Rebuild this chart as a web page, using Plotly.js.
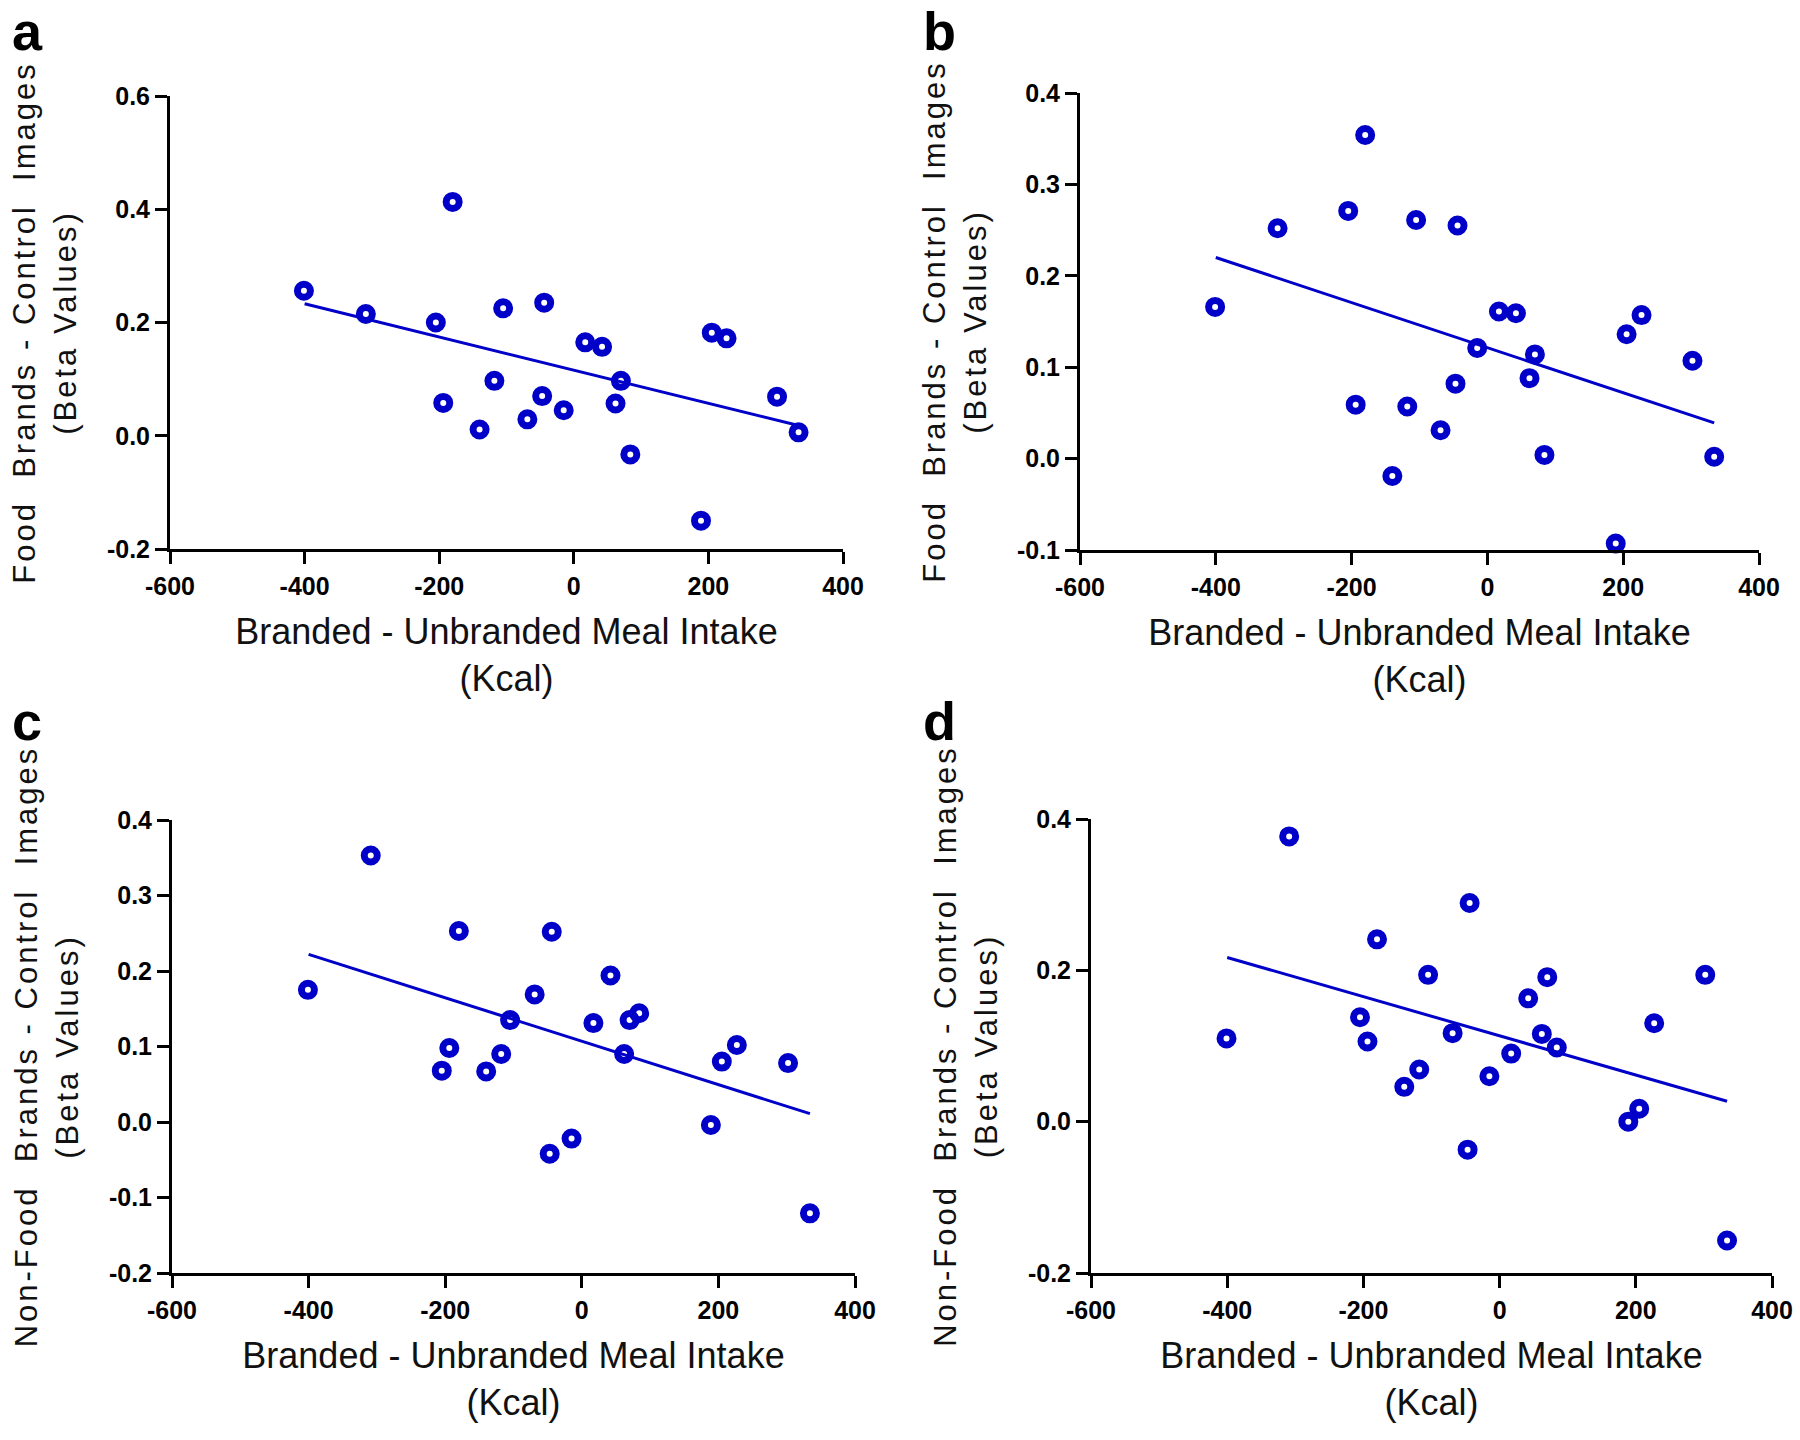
<!DOCTYPE html>
<html><head><meta charset="utf-8">
<script src="https://cdn.plot.ly/plotly-3.0.1.min.js"></script>
<style>
html,body{margin:0;padding:0;background:#fff;}
#chart{width:1800px;height:1440px;}
g[class^="g-y"][class$="title"] text{letter-spacing:3px;}
</style></head><body><div id="chart"></div>
<script>
// Branded - Unbranded meal intake (Kcal), one value per participant (shared by all panels)
const intakeKcal = [-401, -309, -205, -194, -180, -140, -118, -105, -69, -44, -47, -15, 17, 42, 62, 70, 84, 189, 205, 227, 302, 334];
// Beta values per panel, in the same participant order
const betaA = [0.256, 0.215, 0.200, 0.058, 0.413, 0.011, 0.097, 0.225, 0.029, 0.235, 0.070, 0.045, 0.165, 0.157, 0.057, 0.097, -0.033, -0.150, 0.182, 0.172, 0.069, 0.006];
const betaB = [0.166, 0.252, 0.271, 0.059, 0.354, -0.019, 0.057, 0.261, 0.031, 0.255, 0.082, 0.121, 0.161, 0.159, 0.088, 0.114, 0.004, -0.093, 0.136, 0.157, 0.107, 0.002];
const betaC = [0.175, 0.353, 0.068, 0.098, 0.253, 0.067, 0.090, 0.135, 0.169, 0.252, -0.042, -0.022, 0.131, 0.194, 0.090, 0.135, 0.144, -0.004, 0.080, 0.102, 0.078, -0.121];
const betaD = [0.110, 0.377, 0.138, 0.106, 0.241, 0.046, 0.069, 0.194, 0.117, 0.289, -0.037, 0.060, 0.090, 0.163, 0.116, 0.191, 0.098, 0.000, 0.017, 0.130, 0.194, -0.157];
// Regression line end points
const fitX = [-400, 334];
const fitA = [0.233, 0.018];
const fitB = [0.220, 0.039];
const fitC = [0.222, 0.011];
const fitD = [0.217, 0.027];
// Tick labels
const xTickVals = [-600, -400, -200, 0, 200, 400];
const xTickText = ['-600', '-400', '-200', '0', '200', '400'];
const yTickValsA = [-0.2, 0, 0.2, 0.4, 0.6];
const yTickTextA = ['-0.2', '0.0', '0.2', '0.4', '0.6'];
const yTickValsB = [-0.1, 0, 0.1, 0.2, 0.3, 0.4];
const yTickTextB = ['-0.1', '0.0', '0.1', '0.2', '0.3', '0.4'];
const yTickValsC = [-0.2, -0.1, 0, 0.1, 0.2, 0.3, 0.4];
const yTickTextC = ['-0.2', '-0.1', '0.0', '0.1', '0.2', '0.3', '0.4'];
const yTickValsD = [-0.2, 0, 0.2, 0.4];
const yTickTextD = ['-0.2', '0.0', '0.2', '0.4'];
const panelLetters = ['a', 'b', 'c', 'd'];
const xTitleText = 'Branded - Unbranded Meal Intake<br>(Kcal)';
const yTitleFood = 'Food\u00a0 Brands - Control\u00a0 Images<br>(Beta Values)';
const yTitleNonFood = 'Non-Food\u00a0 Brands - Control\u00a0 Images<br>(Beta Values)';

const BLUE = '#0000c8';
const FONT = 'Liberation Sans, Arial, sans-serif';

const panels = [
  {y: betaA, fit: fitA, tv: yTickValsA, tt: yTickTextA, range: [-0.2, 0.6], ytitle: yTitleFood,
   xd: [170/1800, 843/1800], yd: [1-549/1440, 1-96/1440]},
  {y: betaB, fit: fitB, tv: yTickValsB, tt: yTickTextB, range: [-0.1, 0.4], ytitle: yTitleFood,
   xd: [1080/1800, 1759/1800], yd: [1-550/1440, 1-93/1440]},
  {y: betaC, fit: fitC, tv: yTickValsC, tt: yTickTextC, range: [-0.2, 0.4], ytitle: yTitleNonFood,
   xd: [172/1800, 855/1800], yd: [1-1273/1440, 1-820/1440]},
  {y: betaD, fit: fitD, tv: yTickValsD, tt: yTickTextD, range: [-0.2, 0.4], ytitle: yTitleNonFood,
   xd: [1091/1800, 1772/1800], yd: [1-1273/1440, 1-819/1440]}
];

const data = [];
const layout = {
  width: 1800, height: 1440,
  margin: {l: 0, r: 0, t: 0, b: 0},
  paper_bgcolor: '#ffffff', plot_bgcolor: '#ffffff',
  showlegend: false,
  font: {family: FONT, color: '#000000'},
  annotations: []
};
const letterPos = [[11, 0], [922, 0], [11, 690], [922, 690]];

panels.forEach((p, i) => {
  const n = i === 0 ? '' : String(i + 1);
  const xa = 'x' + n, ya = 'y' + n;
  data.push({
    x: fitX, y: p.fit, xaxis: xa, yaxis: ya, type: 'scatter', mode: 'lines',
    line: {color: BLUE, width: 3}, hoverinfo: 'skip', cliponaxis: false
  });
  data.push({
    x: intakeKcal, y: p.y, xaxis: xa, yaxis: ya, type: 'scatter', mode: 'markers',
    marker: {symbol: 'circle-open', size: 13, color: BLUE, line: {width: 7, color: BLUE}},
    cliponaxis: false
  });
  layout['xaxis' + n] = {
    domain: p.xd, anchor: ya, range: [-600, 400], tickvals: xTickVals, ticktext: xTickText,
    showgrid: false, zeroline: false, showline: true, linecolor: '#000', linewidth: 3,
    ticks: 'outside', ticklen: 12, tickwidth: 3, tickcolor: '#000',
    tickfont: {family: FONT, size: 25, color: '#000', weight: 'bold'},
    ticklabelstandoff: 1,
    title: {text: xTitleText, font: {family: FONT, size: 36, color: '#111'}, standoff: 20}
  };
  layout['yaxis' + n] = {
    domain: p.yd, anchor: xa, range: p.range, tickvals: p.tv, ticktext: p.tt,
    showgrid: false, zeroline: false, showline: true, linecolor: '#000', linewidth: 3,
    ticks: 'outside', ticklen: 12, tickwidth: 3, tickcolor: '#000',
    tickfont: {family: FONT, size: 25, color: '#000', weight: 'bold'},
    title: {text: p.ytitle, font: {family: FONT, size: 31, color: '#111'}, standoff: 22}
  };
  layout.annotations.push({
    text: panelLetters[i], xref: 'paper', yref: 'paper',
    x: letterPos[i][0] / 1800, y: 1 - letterPos[i][1] / 1440,
    xanchor: 'left', yanchor: 'top', showarrow: false, borderpad: 0,
    font: {family: FONT, size: 54, color: '#000', weight: 'bold'}
  });
});

Plotly.newPlot('chart', data, layout, {staticPlot: true, displayModeBar: false});
</script></body></html>
